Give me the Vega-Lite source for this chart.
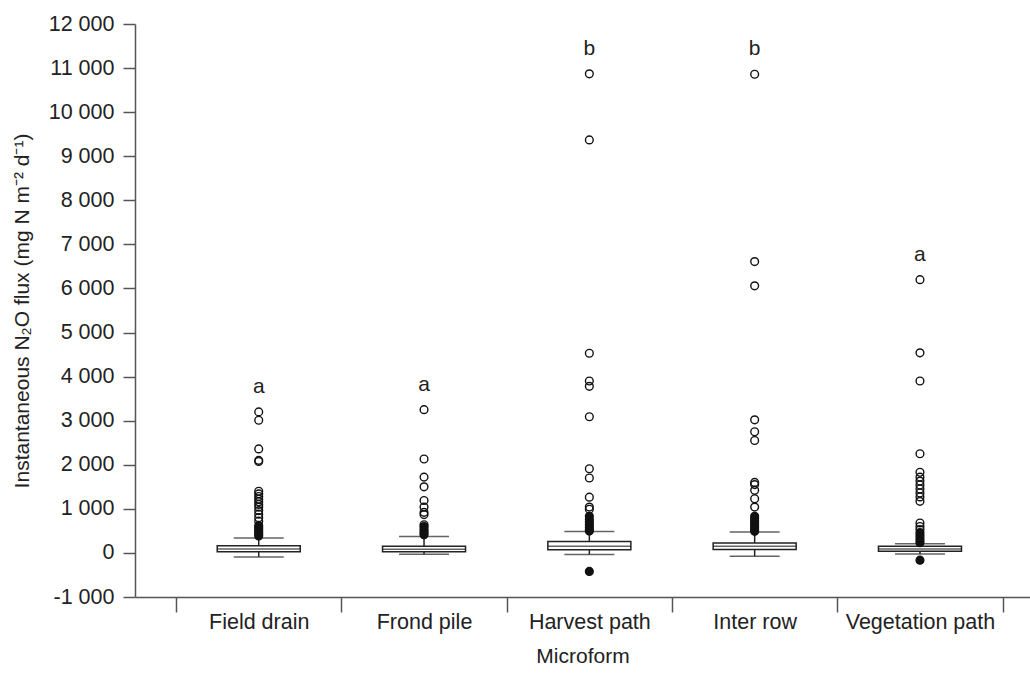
{
  "$schema": "https://vega.github.io/schema/vega-lite/v6.json",
  "width": 895,
  "height": 573,
  "autosize": "none",
  "padding": {"left": 135, "top": 24, "right": 0, "bottom": 76},
  "background": "white",
  "config": {
    "view": {"stroke": null},
    "font": "Liberation Sans",
    "axis": {"labelFont": "Liberation Sans", "titleFont": "Liberation Sans", "labelColor": "#222", "titleColor": "#222", "titleFontWeight": "normal", "domainColor": "#555", "tickColor": "#555", "domainWidth": 1.5, "tickWidth": 1.5, "grid": false}
  },
  "datasets": {
    "summary": [
      {"microform": "Field drain", "lower": -90, "q1": 25, "median": 90, "q3": 165, "upper": 340, "max": 3200, "letter": "a"},
      {"microform": "Frond pile", "lower": -30, "q1": 25, "median": 85, "q3": 150, "upper": 375, "max": 3250, "letter": "a"},
      {"microform": "Harvest path", "lower": -35, "q1": 70, "median": 150, "q3": 260, "upper": 485, "max": 10870, "letter": "b"},
      {"microform": "Inter row", "lower": -75, "q1": 75, "median": 150, "q3": 225, "upper": 475, "max": 10860, "letter": "b"},
      {"microform": "Vegetation path", "lower": -25, "q1": 40, "median": 90, "q3": 150, "upper": 210, "max": 6200, "letter": "a"}
    ],
    "outliers": [
      {"microform": "Field drain", "flux": 3200}, {"microform": "Field drain", "flux": 3010}, {"microform": "Field drain", "flux": 2360}, {"microform": "Field drain", "flux": 2100}, {"microform": "Field drain", "flux": 2075}, {"microform": "Field drain", "flux": 1400}, {"microform": "Field drain", "flux": 1340}, {"microform": "Field drain", "flux": 1280}, {"microform": "Field drain", "flux": 1220}, {"microform": "Field drain", "flux": 1160}, {"microform": "Field drain", "flux": 1100}, {"microform": "Field drain", "flux": 1040}, {"microform": "Field drain", "flux": 960}, {"microform": "Field drain", "flux": 880}, {"microform": "Field drain", "flux": 800}, {"microform": "Field drain", "flux": 720},
      {"microform": "Frond pile", "flux": 3250}, {"microform": "Frond pile", "flux": 2130}, {"microform": "Frond pile", "flux": 1720}, {"microform": "Frond pile", "flux": 1500}, {"microform": "Frond pile", "flux": 1190}, {"microform": "Frond pile", "flux": 1040}, {"microform": "Frond pile", "flux": 920}, {"microform": "Frond pile", "flux": 870}, {"microform": "Frond pile", "flux": 640},
      {"microform": "Harvest path", "flux": 10870}, {"microform": "Harvest path", "flux": 9370}, {"microform": "Harvest path", "flux": 4530}, {"microform": "Harvest path", "flux": 3900}, {"microform": "Harvest path", "flux": 3780}, {"microform": "Harvest path", "flux": 3090}, {"microform": "Harvest path", "flux": 1910}, {"microform": "Harvest path", "flux": 1700}, {"microform": "Harvest path", "flux": 1265}, {"microform": "Harvest path", "flux": 1040}, {"microform": "Harvest path", "flux": 990},
      {"microform": "Inter row", "flux": 10860}, {"microform": "Inter row", "flux": 6610}, {"microform": "Inter row", "flux": 6060}, {"microform": "Inter row", "flux": 3020}, {"microform": "Inter row", "flux": 2750}, {"microform": "Inter row", "flux": 2550}, {"microform": "Inter row", "flux": 1600}, {"microform": "Inter row", "flux": 1550}, {"microform": "Inter row", "flux": 1420}, {"microform": "Inter row", "flux": 1230}, {"microform": "Inter row", "flux": 1040},
      {"microform": "Vegetation path", "flux": 6200}, {"microform": "Vegetation path", "flux": 4540}, {"microform": "Vegetation path", "flux": 3900}, {"microform": "Vegetation path", "flux": 2250}, {"microform": "Vegetation path", "flux": 1830}, {"microform": "Vegetation path", "flux": 1720}, {"microform": "Vegetation path", "flux": 1630}, {"microform": "Vegetation path", "flux": 1540}, {"microform": "Vegetation path", "flux": 1450}, {"microform": "Vegetation path", "flux": 1360}, {"microform": "Vegetation path", "flux": 1270}, {"microform": "Vegetation path", "flux": 1170}, {"microform": "Vegetation path", "flux": 680}, {"microform": "Vegetation path", "flux": 600}, {"microform": "Vegetation path", "flux": 530}
    ],
    "clustered": [
      {"microform": "Field drain", "flux": 620}, {"microform": "Field drain", "flux": 580}, {"microform": "Field drain", "flux": 540}, {"microform": "Field drain", "flux": 500}, {"microform": "Field drain", "flux": 460}, {"microform": "Field drain", "flux": 420}, {"microform": "Field drain", "flux": 385},
      {"microform": "Frond pile", "flux": 600}, {"microform": "Frond pile", "flux": 550}, {"microform": "Frond pile", "flux": 500}, {"microform": "Frond pile", "flux": 450}, {"microform": "Frond pile", "flux": 410},
      {"microform": "Harvest path", "flux": 830}, {"microform": "Harvest path", "flux": 760}, {"microform": "Harvest path", "flux": 700}, {"microform": "Harvest path", "flux": 640}, {"microform": "Harvest path", "flux": 580}, {"microform": "Harvest path", "flux": 530}, {"microform": "Harvest path", "flux": 495}, {"microform": "Harvest path", "flux": -420},
      {"microform": "Inter row", "flux": 830}, {"microform": "Inter row", "flux": 780}, {"microform": "Inter row", "flux": 730}, {"microform": "Inter row", "flux": 680}, {"microform": "Inter row", "flux": 630}, {"microform": "Inter row", "flux": 580}, {"microform": "Inter row", "flux": 530}, {"microform": "Inter row", "flux": 490},
      {"microform": "Vegetation path", "flux": 460}, {"microform": "Vegetation path", "flux": 400}, {"microform": "Vegetation path", "flux": 340}, {"microform": "Vegetation path", "flux": 280}, {"microform": "Vegetation path", "flux": 230}, {"microform": "Vegetation path", "flux": -165}
    ]
  },
  "encoding": {
    "x": {
      "field": "microform", "type": "nominal",
      "sort": ["Field drain", "Frond pile", "Harvest path", "Inter row", "Vegetation path"],
      "scale": {"paddingInner": 0, "paddingOuter": 0.207, "align": 0.6},
      "axis": {"title": "Microform", "labelAngle": 0, "tickBand": "extent", "tickSize": 15, "labelPadding": -1, "labelFontSize": 21.5, "titleFontSize": 21, "titlePadding": 13}
    }
  },
  "layer": [
    {
      "data": {"name": "summary"},
      "mark": {"type": "rule", "color": "#222", "strokeWidth": 1.5},
      "encoding": {
        "y": {
          "field": "lower", "type": "quantitative",
          "scale": {"domain": [-1000, 12000], "nice": false, "zero": false},
          "axis": {
            "title": "Instantaneous N₂O flux (mg N m⁻² d⁻¹)",
            "values": [-1000, -500, 0, 500, 1000, 1500, 2000, 2500, 3000, 3500, 4000, 4500, 5000, 5500, 6000, 6500, 7000, 7500, 8000, 8500, 9000, 9500, 10000, 10500, 11000, 11500, 12000],
            "labelExpr": "datum.value % 1000 === 0 ? replace(replace(format(datum.value, ',d'), ',', ' '), '\u2212', '-') : ''",
            "tickSize": {"condition": {"test": "datum.value % 1000 === 0", "value": 12}, "value": 6},
            "labelPadding": 9,
            "labelFontSize": 21.5,
            "titleFontSize": 21,
            "titlePadding": 16
          }
        },
        "y2": {"field": "upper"}
      }
    },
    {
      "data": {"name": "summary"},
      "mark": {"type": "bar", "fill": "white", "stroke": "#222", "strokeWidth": 1.5, "size": 83},
      "encoding": {
        "y": {"field": "q1", "type": "quantitative"},
        "y2": {"field": "q3"}
      }
    },
    {
      "data": {"name": "summary"},
      "mark": {"type": "tick", "color": "#222", "size": 83, "thickness": 1.5},
      "encoding": {"y": {"field": "median", "type": "quantitative"}}
    },
    {
      "data": {"name": "summary"},
      "mark": {"type": "tick", "color": "#222", "size": 50, "thickness": 1.5},
      "encoding": {"y": {"field": "upper", "type": "quantitative"}}
    },
    {
      "data": {"name": "summary"},
      "mark": {"type": "tick", "color": "#222", "size": 50, "thickness": 1.5},
      "encoding": {"y": {"field": "lower", "type": "quantitative"}}
    },
    {
      "data": {"name": "outliers"},
      "mark": {"type": "point", "shape": "circle", "filled": false, "stroke": "#111", "strokeWidth": 1.4, "size": 60, "opacity": 1},
      "encoding": {"y": {"field": "flux", "type": "quantitative"}}
    },
    {
      "data": {"name": "clustered"},
      "mark": {"type": "point", "shape": "circle", "filled": true, "fill": "#111", "stroke": "#111", "strokeWidth": 1.4, "size": 60, "opacity": 1},
      "encoding": {"y": {"field": "flux", "type": "quantitative"}}
    },
    {
      "data": {"name": "summary"},
      "mark": {"type": "text", "fontSize": 21, "color": "#222", "baseline": "middle", "dy": -25},
      "encoding": {
        "y": {"field": "max", "type": "quantitative"},
        "text": {"field": "letter"}
      }
    }
  ]
}
